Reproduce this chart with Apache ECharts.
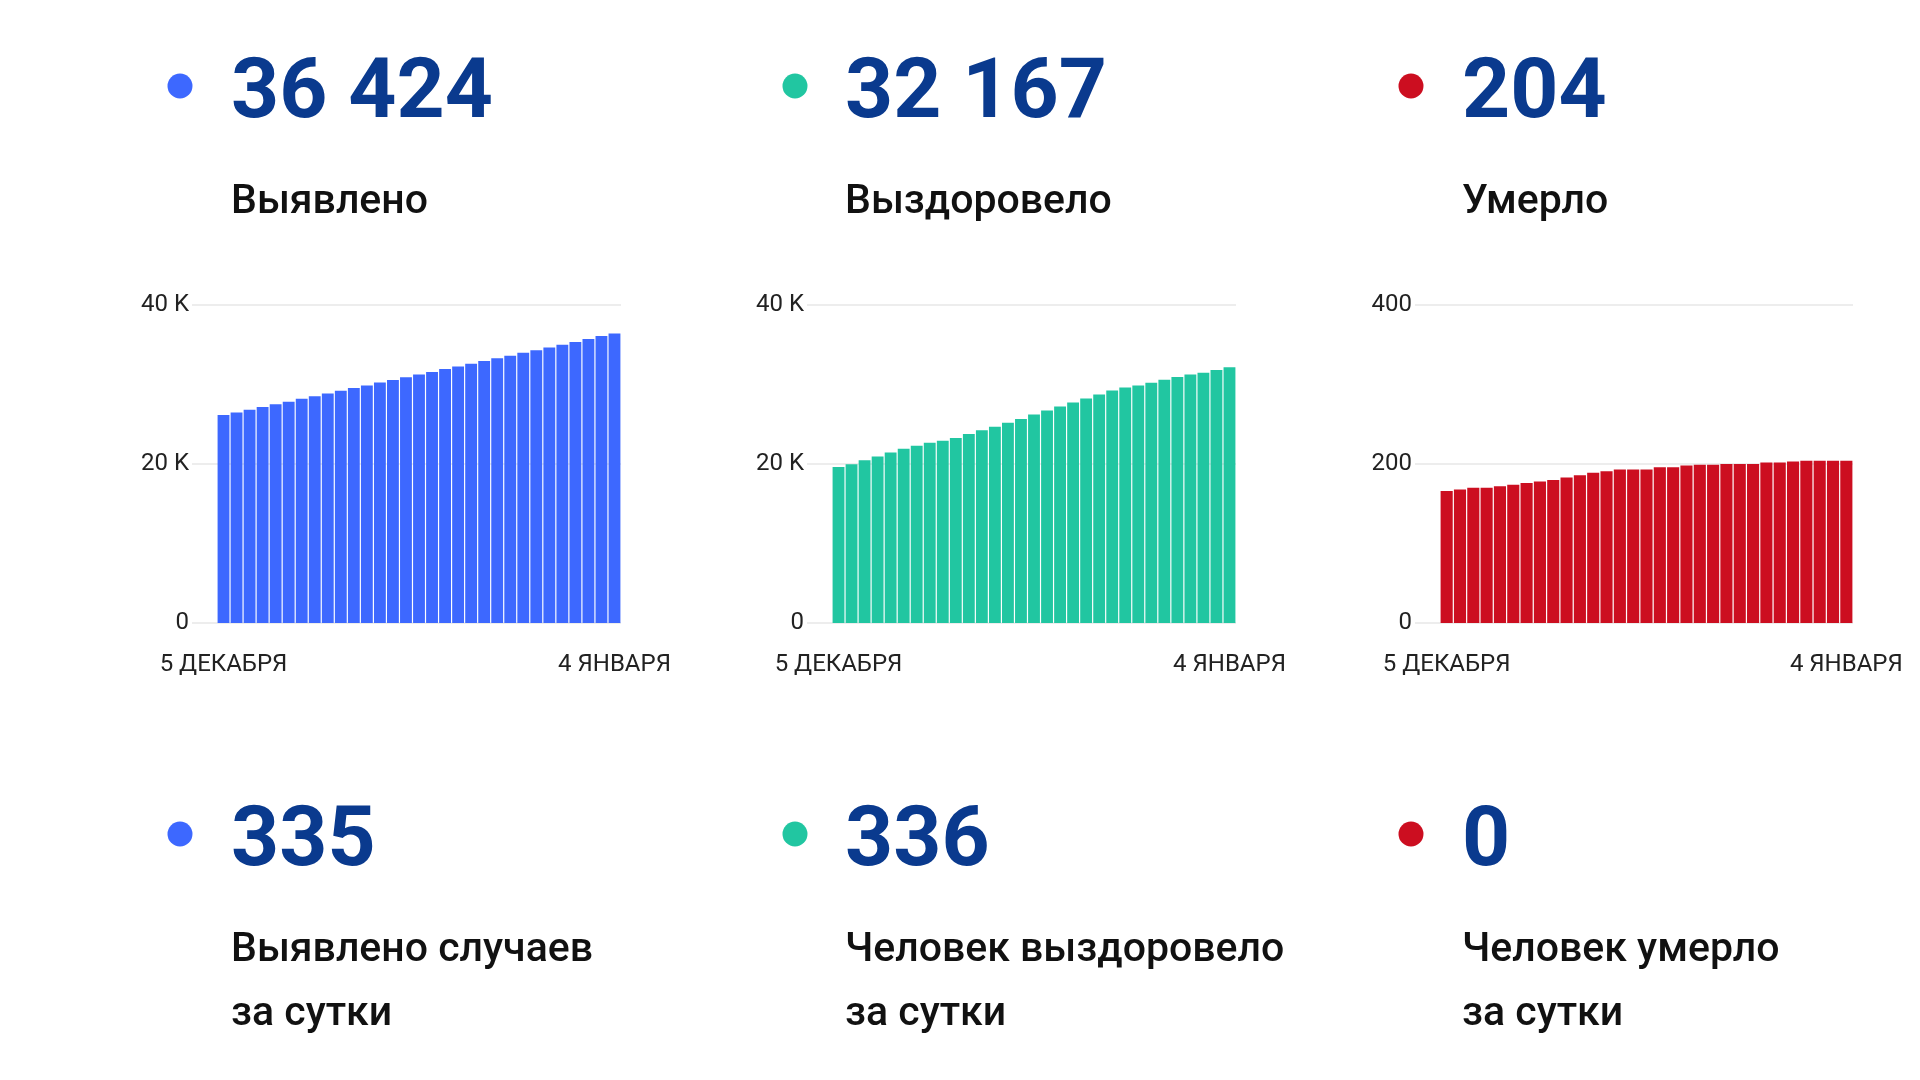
<!DOCTYPE html>
<html>
<head>
<meta charset="utf-8">
<script src="https://cdn.jsdelivr.net/npm/echarts@6/dist/echarts.min.js"></script>
<style>
html,body{margin:0;padding:0;background:#fff;}
#main{width:1920px;height:1080px;}
</style>
</head>
<body>
<div id="main"></div>
<script>
const categories = ['5 ДЕКАБРЯ','6 ДЕКАБРЯ','7 ДЕКАБРЯ','8 ДЕКАБРЯ','9 ДЕКАБРЯ','10 ДЕКАБРЯ','11 ДЕКАБРЯ','12 ДЕКАБРЯ','13 ДЕКАБРЯ','14 ДЕКАБРЯ','15 ДЕКАБРЯ','16 ДЕКАБРЯ','17 ДЕКАБРЯ','18 ДЕКАБРЯ','19 ДЕКАБРЯ','20 ДЕКАБРЯ','21 ДЕКАБРЯ','22 ДЕКАБРЯ','23 ДЕКАБРЯ','24 ДЕКАБРЯ','25 ДЕКАБРЯ','26 ДЕКАБРЯ','27 ДЕКАБРЯ','28 ДЕКАБРЯ','29 ДЕКАБРЯ','30 ДЕКАБРЯ','31 ДЕКАБРЯ','1 ЯНВАРЯ','2 ЯНВАРЯ','3 ЯНВАРЯ','4 ЯНВАРЯ'];
const detected = [26150,26478,26835,27162,27511,27843,28197,28524,28871,29208,29556,29883,30236,30571,30902,31255,31587,31934,32268,32617,32951,33296,33628,33979,34318,34657,35006,35349,35718,36089,36424];
const recovered = [19630,19965,20472,20938,21441,21907,22286,22668,22921,23262,23768,24233,24697,25204,25668,26213,26719,27228,27734,28239,28748,29252,29627,29886,30231,30604,30938,31243,31489,31831,32167];
const died = [166,168,170,170,172,174,176,178,180,183,186,189,191,193,193,193,196,196,198,199,199,200,200,200,202,202,203,204,204,204,204];
const totalTexts = ['36 424','32 167','204'];
const totalLabels = ['Выявлено','Выздоровело','Умерло'];
const dailyTexts = ['335','336','0'];
const dailyLabels = ['Выявлено случаев\nза сутки','Человек выздоровело\nза сутки','Человек умерло\nза сутки'];
const yMax = [40000,40000,400];
const yInterval = [20000,20000,200];

const colors = ['#3D68FF','#21C6A1','#CC0E20'];
const navy = '#0A3A8E';
const FONT = 'Roboto';

// layout
const colDotX = [180,795,1411];
const colTextX = [231,845,1462];
const barLeft = [217,832,1440];
const barWidth = [404,404,413];
const gridTop = 305, gridHeight = 318;

const chart = echarts.init(document.getElementById('main'));
const grids = [], xAxes = [], yAxes = [], series = [], graphic = [];
const seriesData = [detected, recovered, died];

function fmt(v){ return v >= 1000 ? (v/1000) + ' K' : String(v); }

for (let i = 0; i < 3; i++) {
  grids.push({left: barLeft[i]-25, top: gridTop, width: barWidth[i]+25, height: gridHeight});
  grids.push({left: barLeft[i], top: gridTop, width: barWidth[i], height: gridHeight});
  const gb = i*2, gbar = i*2+1;
  xAxes.push({type:'category', gridIndex: gb, data: categories, show:false});
  xAxes.push({type:'category', gridIndex: gbar, data: categories, boundaryGap:true,
    axisLine:{show:false}, axisTick:{show:false},
    axisLabel:{interval:(idx)=> idx===0 || idx===categories.length-1, margin:30,
      fontFamily:FONT, fontSize:24, color:'#222'}});
  yAxes.push({type:'value', gridIndex: gb, min:0, max:yMax[i], interval:yInterval[i],
    axisLine:{show:false}, axisTick:{show:false},
    axisLabel:{formatter: fmt, margin:3, fontFamily:FONT, fontSize:24, color:'#222'},
    splitLine:{show:true, lineStyle:{color:'#EDEDED', width:2}}});
  yAxes.push({type:'value', gridIndex: gbar, min:0, max:yMax[i], interval:yInterval[i], show:false, splitLine:{show:false}});
  series.push({type:'bar', xAxisIndex: gbar, yAxisIndex: gbar, data: seriesData[i],
    barCategoryGap:'9%', itemStyle:{color: colors[i]}, silent:true, animation:false});

  graphic.push({type:'circle', shape:{cx:colDotX[i], cy:86, r:12.5}, style:{fill:colors[i]}});
  graphic.push({type:'text', style:{x:colTextX[i], y:96, text: totalTexts[i], fontFamily:FONT, fontWeight:'bold', fontSize:84, fill:navy, verticalAlign:'middle'}});
  graphic.push({type:'text', style:{x:colTextX[i], y:203, text: totalLabels[i], fontFamily:FONT, fontWeight:500, fontSize:41, fill:'#111', verticalAlign:'middle'}});
  graphic.push({type:'circle', shape:{cx:colDotX[i], cy:834, r:12.5}, style:{fill:colors[i]}});
  graphic.push({type:'text', style:{x:colTextX[i], y:844, text: dailyTexts[i], fontFamily:FONT, fontWeight:'bold', fontSize:84, fill:navy, verticalAlign:'middle'}});
  graphic.push({type:'text', style:{x:colTextX[i], y:983, text: dailyLabels[i], fontFamily:FONT, fontWeight:500, fontSize:41, lineHeight:64, fill:'#111', verticalAlign:'middle'}});
}

chart.setOption({
  backgroundColor:'#fff',
  animation:false,
  grid: grids, xAxis: xAxes, yAxis: yAxes, series: series, graphic: graphic
});
</script>
</body>
</html>
